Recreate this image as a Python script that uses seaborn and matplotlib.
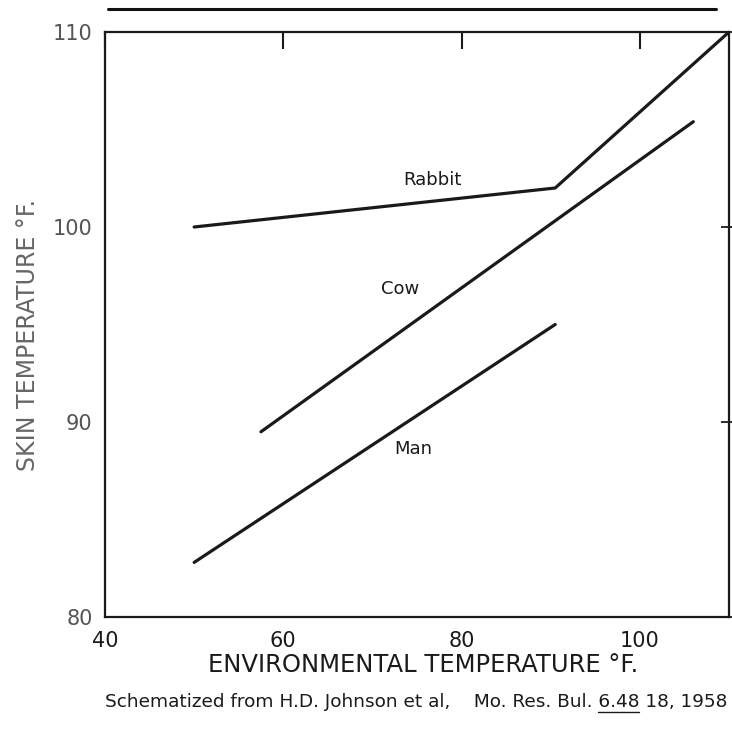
import numpy as np
import pandas as pd
import matplotlib
matplotlib.use("Agg")
import matplotlib.pyplot as plt
from matplotlib.lines import Line2D
import seaborn as sns

sns.set_style("white")
plt.rcParams['font.family'] = ['DejaVu Sans']

# values
animals = ['Rabbit', 'Cow', 'Man']
env_temp = {'Rabbit': [50, 90.5, 110], 'Cow': [57.5, 106], 'Man': [50, 90.5]}
skin_temp = {'Rabbit': [100, 102, 110], 'Cow': [89.5, 105.4], 'Man': [82.8, 95]}
label_pos = {'Rabbit': (76.7, 102.4), 'Cow': (73.1, 96.8), 'Man': (74.6, 88.6)}
x_ticks = [40, 60, 80, 100]
y_ticks = [80, 90, 100, 110]

rows = []
for a in animals:
    for xv, yv in zip(env_temp[a], skin_temp[a]):
        rows.append({'animal': a, 'env': xv, 'skin': yv})
df = pd.DataFrame(rows)

fig = plt.figure(figsize=(7.32, 7.29), dpi=100)
ax = fig.add_axes([105 / 732, 112 / 729, 624 / 732, 585 / 729])

sns.lineplot(data=df, x='env', y='skin', hue='animal',
             palette={a: '#1a1a1a' for a in animals},
             linewidth=2.3, legend=False, sort=False, estimator=None, ax=ax)

for a in animals:
    ax.text(*label_pos[a], a, fontsize=13, color='#1a1a1a',
            ha='center', va='center')

ax.set_xlim(40, 110)
ax.set_ylim(80, 110)
ax.set_xticks(x_ticks)
ax.set_yticks(y_ticks)
ax.set_xlabel('')
ax.set_ylabel('')
ax.tick_params(axis='x', direction='in', length=12, width=1.5, top=True,
               labelsize=15, colors='#1a1a1a', pad=10)
ax.tick_params(axis='y', direction='inout', length=12, width=1.3, right=True,
               labelsize=15, labelcolor='#555555', color='#1a1a1a', pad=3)
for s in ax.spines.values():
    s.set_visible(True)
    s.set_color('#1a1a1a')
    s.set_linewidth(1.6)

fig.text(423 / 732, 1 - 665 / 729, 'ENVIRONMENTAL TEMPERATURE °F.',
         fontsize=17.5, color='#1a1a1a', ha='center', va='center')
fig.text(28 / 732, 1 - 335 / 729, 'SKIN TEMPERATURE °F.', rotation=90,
         fontsize=17, color='#666666', ha='center', va='center')

prefix = 'Schematized from H.D. Johnson et al,    Mo. Res. Bul. 6.48'
foot = fig.text(727 / 732, 1 - 702 / 729, prefix + ' 18, 1958',
                fontsize=15, color='#1a1a1a', ha='right', va='center')

# top rule above the chart
fig.add_artist(Line2D([108 / 732, 716 / 732], [1 - 9 / 729, 1 - 9 / 729],
                      color='#111111', linewidth=2.2))

# fit the footer to the width it has in the reference (x 105..727 px)
fig.canvas.draw()
r = fig.canvas.get_renderer()
w = foot.get_window_extent(r).width
foot.set_fontsize(15 * 622 / w)
fs = foot.get_fontsize()

# underline "6.48" as in the reference
bb = foot.get_window_extent(r)
tmp1 = fig.text(0, 0, prefix, fontsize=fs)
tmp2 = fig.text(0, 0, '6.48', fontsize=fs)
w1 = tmp1.get_window_extent(r).width
w2 = tmp2.get_window_extent(r).width
tmp1.remove()
tmp2.remove()
x1 = (bb.x0 + w1) / fig.bbox.width
x0 = x1 - w2 / fig.bbox.width
yu = (bb.y0 - 1) / fig.bbox.height
fig.add_artist(Line2D([x0, x1], [yu, yu], color='#1a1a1a', linewidth=1.0))

fig.savefig('out.png', dpi=100)
